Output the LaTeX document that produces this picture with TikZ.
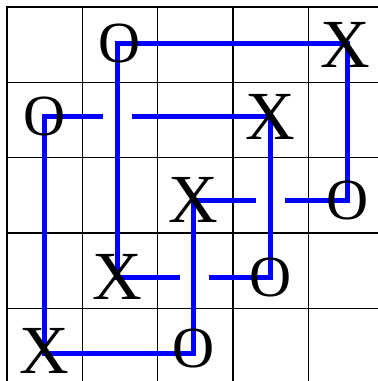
\documentclass[tikz,border=0pt]{standalone}
\usepackage{fontspec}
\setmainfont{Liberation Serif}
\usetikzlibrary{backgrounds}

\begin{document}
\begin{tikzpicture}[
    xmark/.style={inner sep=0pt, font=\fontsize{52}{52}\selectfont},
    omark/.style={inner sep=0pt, font=\fontsize{44}{44}\selectfont},
    knot/.style={blue, line width=3.8pt, line join=miter, line cap=butt},
    gridline/.style={black, line width=1pt}
]
\useasboundingbox (-0.186,0.186) rectangle (9.83,-9.93);

% =============================================
% Marcas X y O (fila, columna)
% =============================================
\node[omark] (o01) at (2.98,-0.97) {O};
\node[xmark] (x04) at (8.98,-1.0) {X};
\node[omark] (o10) at (1.0,-2.92) {O};
\node[xmark] (x13) at (7.0,-2.92) {X};
\node[xmark] (x22) at (4.94,-5.13) {X};
\node[omark] (o24) at (9.04,-5.13) {O};
\node[xmark] (x31) at (2.935,-7.17) {X};
\node[omark] (o33) at (7.0,-7.17) {O};
\node[xmark] (x40) at (1.0,-9.14) {X};
\node[omark] (o42) at (4.94,-9.08) {O};

% Huecos en los cruces (la vertical pasa por encima)
\coordinate (g1a) at (2.55,-2.92);
\coordinate (g1b) at (3.32,-2.92);
\coordinate (g2a) at (6.61,-5.13);
\coordinate (g2b) at (7.38,-5.13);
\coordinate (g3a) at (4.59,-7.17);
\coordinate (g3b) at (5.37,-7.17);

% Esquinas del lazo
\coordinate (c01) at (2.935,-0.97);
\coordinate (c04) at (9.04,-0.97);
\coordinate (c40) at (1.0,-9.19);
\coordinate (c42) at (4.94,-9.19);

% =============================================
% Cuadricula y lazo (debajo de las letras)
% =============================================
\begin{scope}[on background layer]
    \draw[gridline] (0,-10) grid[step=2] (10,0);
    \draw[black, line width=1.4pt] (0,-10) rectangle (10,0);

    \draw[knot] (g1b) -- (x13.center) -- (o33.center) -- (g3b);
    \draw[knot] (g3a) -- (x31.center) -- (c01) -- (c04) -- (o24.center) -- (g2b);
    \draw[knot] (g2a) -- (x22.center) -- (c42) -- (c40) -- (o10.center) -- (g1a);
\end{scope}

\end{tikzpicture}
\end{document}
